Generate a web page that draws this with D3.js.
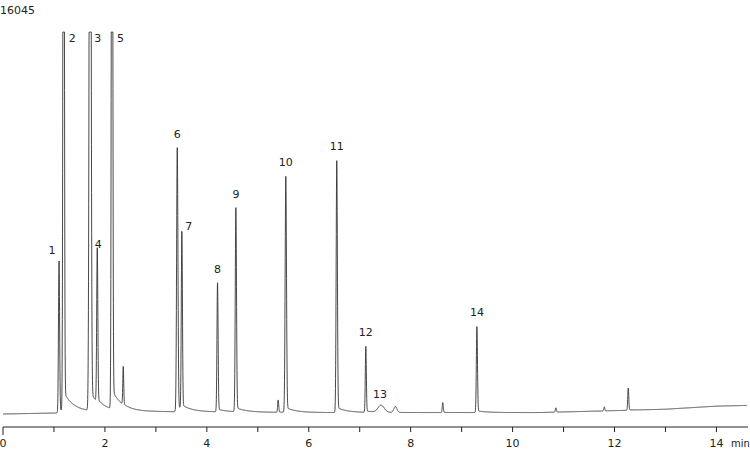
<!DOCTYPE html>
<html><head><meta charset="utf-8">
<script src="https://cdn.jsdelivr.net/npm/d3@7"></script>
<style>
body{margin:0;background:#fff}
text{font-family:"DejaVu Sans",Verdana,sans-serif;font-size:11px;fill:#222}
</style></head>
<body><svg id="c" width="750" height="449"></svg>
<script>
// peaks: retention time (min), height (counts), sigma (min)
var peakTimes   = [1.10, 1.19, 1.71, 1.85, 2.14, 2.36, 3.42, 3.51, 4.21, 4.57, 5.40, 5.55, 6.55, 7.12, 7.42, 7.70, 8.63, 9.30, 10.85, 11.8, 12.27];
var peakHeights = [6380, 40000, 40000, 6470, 40000, 1600, 11090, 7560, 5420, 8570, 520, 9910, 10580, 2770, 300, 250, 420, 3610, 180, 170, 930];
var peakSigma   = [0.011, 0.012, 0.016, 0.011, 0.012, 0.009, 0.013, 0.011, 0.011, 0.012, 0.01, 0.013, 0.012, 0.01, 0.06, 0.03, 0.01, 0.011, 0.01, 0.01, 0.01];
var peakNames   = ["1","2","3","4","5","","6","7","8","9","","10","11","12","13","","","14","","",""];
// baseline drift
var baseT = [0, 1.0, 1.6, 3.0, 6.0, 9.0, 10.5, 12.0, 13.0, 14.0, 14.6];
var baseV = [0, 40, 80, 100, 60, 60, 60, 140, 200, 330, 360];
var yMax = 16045;
var xTicks = [0, 2, 4, 6, 8, 10, 12, 14];

var svg = d3.select("#c");
var x = d3.scaleLinear().domain([0, 14.6]).range([3, 747]);
var y = d3.scaleLinear().domain([0, yMax]).range([414, 32]);
var base = d3.scaleLinear().domain(baseT).range(baseV);

function signal(t) {
  var v = base(t);
  for (var i = 0; i < peakTimes.length; i++) {
    var d = t - peakTimes[i], s = peakSigma[i], g = Math.exp(-d * d / (2 * s * s));
    if (d <= 0) v += peakHeights[i] * g;
    else v += peakHeights[i] * (0.98 * g + 0.02 * Math.exp(-d / 0.2) * Math.min(1, d / s));
  }
  return Math.min(v, yMax);
}
var pts = d3.range(0, 14.6, 0.002).map(function(t) { return [t, signal(t)]; });

svg.append("path").datum(pts)
  .attr("fill", "none").attr("stroke", "#333").attr("stroke-width", 0.9)
  .attr("d", d3.line().x(function(d) { return x(d[0]); }).y(function(d) { return y(d[1]); }));

// peak labels
var clipped = ["2", "3", "5"];
svg.selectAll(".lbl").data(peakTimes.map(function(t, i) { return i; }).filter(function(i) { return peakNames[i]; }))
  .enter().append("text")
  .attr("x", function(i) {
    var n = peakNames[i];
    if (n === "1") return x(peakTimes[i]) - 7;
    if (clipped.indexOf(n) >= 0) return x(peakTimes[i]) + (n === "3" ? 4 : 5);
    if (n === "13") return x(peakTimes[i]) - 1;
    return x(peakTimes[i]) + (n === "7" ? 7 : n === "4" ? 1 : 0);
  })
  .attr("y", function(i) {
    var n = peakNames[i];
    if (clipped.indexOf(n) >= 0) return 42;
    if (n === "13") return 398;
    if (n === "1") return y(peakHeights[i]) - 8;
    if (n === "7") return y(peakHeights[i]) - 4;
    return y(peakHeights[i]) - 12;
  })
  .attr("text-anchor", function(i) { return clipped.indexOf(peakNames[i]) >= 0 ? "start" : "middle"; })
  .text(function(i) { return peakNames[i]; });

// axis
var ax = svg.append("g").attr("transform", "translate(0,427)");
ax.append("line").attr("x1", x(0)).attr("x2", 748).attr("stroke", "#222");
ax.selectAll(".tk").data(d3.range(0, 15)).enter().append("line")
  .attr("x1", function(d) { return x(d); }).attr("x2", function(d) { return x(d); })
  .attr("y1", 0).attr("y2", function(d) { return d === 0 ? 8 : 5; }).attr("stroke", "#222");
ax.selectAll(".tl").data(xTicks).enter().append("text")
  .attr("x", function(d) { return x(d); }).attr("y", 20).attr("text-anchor", "middle")
  .text(function(d) { return d; });
ax.append("text").attr("x", 731).attr("y", 20).style("font-size", "10px").text("min");
svg.append("text").attr("x", 0).attr("y", 14).text(yMax);
</script></body></html>
